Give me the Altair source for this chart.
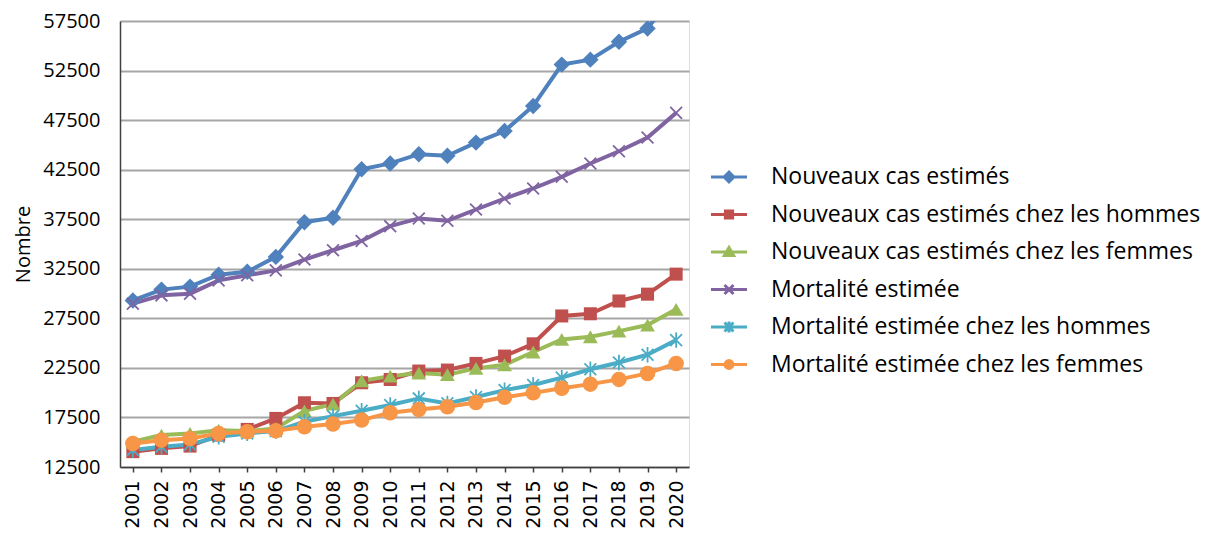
import altair as alt
import pandas as pd

years = ["2001", "2002", "2003", "2004", "2005", "2006", "2007", "2008", "2009", "2010",
         "2011", "2012", "2013", "2014", "2015", "2016", "2017", "2018", "2019", "2020"]

series_names = [
    " Nouveaux cas estimés",
    " Nouveaux cas estimés chez les hommes",
    " Nouveaux cas estimés chez les femmes",
    "Mortalité estimée",
    "Mortalité estimée chez les hommes",
    "Mortalité estimée chez les femmes",
]

nouveaux = [29300, 30400, 30700, 31900, 32200, 33700, 37200, 37650, 42550, 43130,
            44060, 43900, 45230, 46400, 48930, 53100, 53600, 55400, 56750, 60500]
nouveaux_hommes = [14050, 14380, 14610, 15720, 16290, 17400, 18980, 18910, 21000, 21330,
                   22180, 22280, 22950, 23690, 24930, 27740, 27960, 29250, 29940, 31960]
nouveaux_femmes = [15050, 15720, 15890, 16220, 16120, 16390, 18170, 18840, 21200, 21670,
                   21980, 21820, 22450, 22820, 24100, 25370, 25640, 26210, 26820, 28410]
mortalite = [28980, 29820, 29990, 31330, 31840, 32340, 33430, 34370, 35310, 36800,
             37580, 37340, 38480, 39590, 40600, 41780, 43120, 44360, 45740, 48230]
mortalite_hommes = [14210, 14550, 14780, 15550, 15890, 16120, 17060, 17630, 18170, 18750,
                    19420, 18920, 19560, 20260, 20770, 21520, 22360, 23050, 23830, 25300]
mortalite_femmes = [14880, 15210, 15380, 15890, 16060, 16150, 16560, 16830, 17230, 17980,
                    18310, 18580, 19000, 19540, 19980, 20450, 20860, 21340, 21940, 22950]

y_ticks = [12500, 17500, 22500, 27500, 32500, 37500, 42500, 47500, 52500, 57500]

colors = ["#4F81BD", "#C0504D", "#9BBB59", "#8064A2", "#4BACC6", "#F79646"]

all_values = [nouveaux, nouveaux_hommes, nouveaux_femmes, mortalite, mortalite_hommes, mortalite_femmes]
rows = []
for name, vals in zip(series_names, all_values):
    for yr, v in zip(years, vals):
        rows.append({"year": yr, "series": name, "value": v})
df = pd.DataFrame(rows)

# marker styles for the plot
X_PATH = "M-1,-1L1,1M-1,1L1,-1"
STAR_PATH = "M-1,-1L1,1M-1,1L1,-1M0,-1.3L0,1.3"
marker_styles = [
    ("diamond", True, 270, 1),
    ("square", True, 170, 1),
    ("triangle-up", True, 220, 1),
    (X_PATH, False, 140, 1.8),
    (STAR_PATH, False, 140, 1.8),
    ("circle", True, 240, 1),
]

# legend symbols: line + marker
legend_paths = [
    "M-1,0L1,0M0,-0.27L0.27,0L0,0.27L-0.27,0Z",
    "M-1,0L1,0M-0.2,-0.2L0.2,-0.2L0.2,0.2L-0.2,0.2Z",
    "M-1,0L1,0M0,-0.25L0.26,0.2L-0.26,0.2Z",
    "M-1,0L1,0M-0.25,-0.25L0.25,0.25M-0.25,0.25L0.25,-0.25",
    "M-1,0L1,0M-0.25,-0.25L0.25,0.25M-0.25,0.25L0.25,-0.25M0,-0.3L0,0.3",
    "M-1,0L1,0M0.22,0A0.22,0.22 0 1,1 -0.22,0A0.22,0.22 0 1,1 0.22,0Z",
]

base = alt.Chart(df)

x_enc = alt.X(
    "year:O", sort=years,
    scale=alt.Scale(type="point", padding=0.45),
    axis=alt.Axis(title=None, labelAngle=270, labelFont="DejaVu Sans", labelFontSize=19,
                  labelColor="#000000", tickSize=5, tickColor="#404040", tickWidth=1.5,
                  labelPadding=8, domainColor="#404040", domainWidth=1.5, grid=False),
)
y_enc = alt.Y(
    "value:Q",
    scale=alt.Scale(domain=[12500, 57500], nice=False, zero=False),
    axis=alt.Axis(values=y_ticks, format="d", title="Nombre", titleFont="Open Sans",
                  titleFontSize=20, titleFontWeight="normal", titleColor="#000000",
                  titleX=-97, titleY=223, titleAngle=270, titleAlign="center",
                  titleBaseline="middle",
                  labelFont="Open Sans", labelFontSize=20, labelColor="#000000",
                  labelPadding=20, ticks=False, gridColor="#A6A6A6", gridWidth=2,
                  domainColor="#404040", domainWidth=1.5),
)

layers = []
for name, col in zip(series_names, colors):
    layers.append(
        base.transform_filter(alt.datum.series == name)
        .mark_line(strokeWidth=4, color=col, clip=True)
        .encode(x=x_enc, y=y_enc)
    )
for name, col, (shape, filled, size, sw) in zip(series_names, colors, marker_styles):
    layers.append(
        base.transform_filter(alt.datum.series == name)
        .mark_point(shape=shape, filled=filled, size=size, strokeWidth=sw, color=col,
                    opacity=1, clip=True)
        .encode(x=x_enc, y=y_enc)
    )

leg = alt.Legend(title=None, orient="none", legendX=589, legendY=136,
                 labelFont="Open Sans", labelFontSize=23, labelColor="#000000",
                 labelLimit=600,
                 symbolSize=1300, symbolStrokeWidth=3, symbolOpacity=1,
                 labelOffset=22, rowPadding=5.5)

legend_layer = base.mark_point(opacity=0, size=1300, strokeWidth=3, clip=True).encode(
    x=x_enc, y=y_enc,
    fill=alt.Fill("series:N", scale=alt.Scale(domain=series_names, range=colors), legend=leg),
    stroke=alt.Stroke("series:N", scale=alt.Scale(domain=series_names, range=colors), legend=leg),
    shape=alt.Shape("series:N", scale=alt.Scale(domain=series_names, range=legend_paths), legend=leg),
)
layers.append(legend_layer)

chart = alt.layer(*layers).properties(
    width=569, height=446,
    padding={"left": 5, "top": 3, "right": 5, "bottom": 0},
).configure_view(strokeWidth=0).configure(font="Open Sans")

chart.save("out.html", embed_options={"renderer": "svg", "actions": False})
